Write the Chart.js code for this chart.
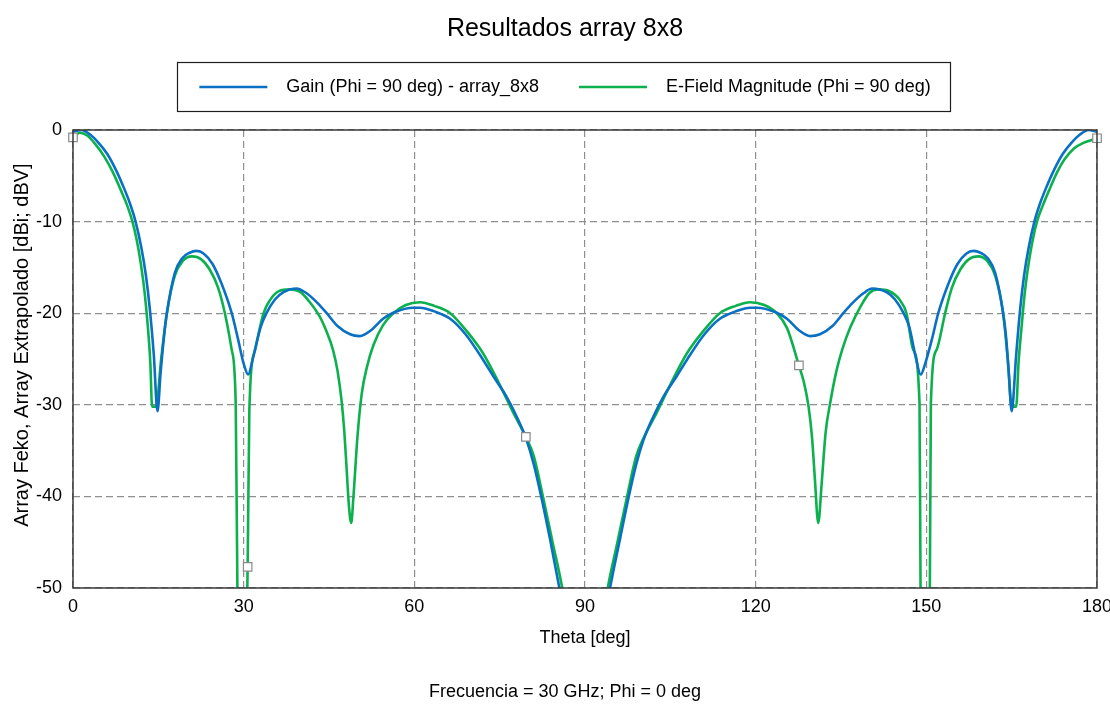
<!DOCTYPE html>
<html>
<head>
<meta charset="utf-8">
<title>Resultados array 8x8</title>
<script src="https://cdn.jsdelivr.net/npm/chart.js@4.4.1/dist/chart.umd.min.js"></script>
<style>
  html, body { margin: 0; padding: 0; background: #fff; }
  #wrap { width: 1110px; height: 704px; }
</style>
</head>
<body>
<div id="wrap"><canvas id="myChart" width="1110" height="704"></canvas></div>
<script>
// Gain cut (Phi = 90 deg) of the 8x8 array, theta in degrees, values in dBi
const thetaGain = [
  0, 1.5, 3, 4.5, 6, 7.5, 9, 10, 11, 12,
  12.8, 13.5, 14.2, 14.85, 15.4, 16, 16.5, 17.9, 19.2, 20.5,
  21.7, 23, 24.5, 26, 27.9, 29, 30, 30.8, 31.6, 33,
  34, 35.5, 37, 39.3, 41, 43, 44.6, 46.5, 48.7, 50.4,
  52.5, 54.5, 56.5, 59.8, 61, 63.5, 66.3, 69, 72.1, 74,
  76.2, 78, 79.7, 81, 82.3, 83.8, 85.5, 87.5, 90,
  92.5, 94.4, 96.2, 97.7, 99, 100.3, 102, 103.8, 106, 107.9,
  111, 113.7, 116.5, 119, 120.2, 123.5, 125.5, 127.5, 129.6, 131.3,
  133.5, 135.4, 137, 139, 140.5, 143, 144.5, 146, 147, 148.2,
  149, 149.8, 151, 152.1, 154, 155.5, 157, 158.3, 159.5, 160.8,
  162.1, 163.5, 164, 164.5, 165, 165.8, 166.5, 167.2, 168, 169,
  170, 171, 172.5, 174, 175.5, 177, 178.5, 180
];
const gainDb = [
  -0.2, 0, -0.5, -1.4, -2.6, -4.3, -6.4, -8, -10, -12.8,
  -15.8, -19.5, -24.5, -30.7, -26.5, -22.5, -20, -15.6, -14, -13.4,
  -13.2, -13.5, -14.6, -16.6, -20, -22.8, -25.5, -26.7, -25, -21.5,
  -20, -18.5, -17.7, -17.3, -17.8, -18.9, -20, -21.4, -22.3, -22.5,
  -21.8, -20.6, -19.9, -19.4, -19.4, -19.8, -20.6, -22.3, -25.1, -27,
  -29.1, -31.3, -33.8, -36.5, -40, -44.5, -50, -57, -65,
  -57, -50, -44.5, -40, -36.5, -33.8, -31.3, -29.1, -27, -25.1,
  -22.3, -20.6, -19.8, -19.4, -19.4, -19.9, -20.6, -21.8, -22.5, -22.3,
  -21.4, -20, -18.9, -17.8, -17.3, -17.7, -18.5, -20, -21.5, -25,
  -26.7, -25.5, -22.8, -20, -16.6, -14.6, -13.5, -13.2, -13.4, -14,
  -15.6, -20, -22.5, -26.5, -30.7, -24.5, -19.5, -15.8, -12.8, -10,
  -8, -6.4, -4.3, -2.6, -1.4, -0.5, 0, -0.2
];

// E-field magnitude cut (Phi = 90 deg), values in dBV
const thetaField = [
  0, 1.2, 2.5, 4, 5.5, 7, 8.5, 9.5, 10.4, 11.2,
  11.9, 12.6, 13.2, 13.6, 13.9, 14.6, 15.5, 16.5, 17.9, 19.3,
  20.9, 22.5, 24, 25.5, 26.7, 27.9, 28.6, 28.9, 29.9, 30.7,
  31, 32, 33.5, 34.6, 36.2, 38.1, 40, 41.5, 43.4, 44.5,
  45.7, 46.5, 47.2, 47.7, 48.1, 48.5, 48.9, 49.3, 50, 50.75,
  51.7, 52.8, 54.5, 56.3, 58.5, 61, 63.5, 66.3, 69, 72.1,
  75, 77.5, 79.6, 81, 82.6, 84.3, 86, 88, 90,
  92, 94, 95.7, 97.4, 99, 100.4, 102.5, 105, 107.9, 111,
  113.7, 116.5, 119, 121.5, 123.7, 125.5, 127.6, 128.5, 129.3, 129.9,
  130.4, 131, 131.6, 132.3, 133.1, 134.2, 135.2, 136.6, 138.5, 140,
  141.5, 143.5, 145.4, 146.5, 147.7, 148.8, 149, 149.8, 150.6, 150.8,
  151.8, 153.3, 154.5, 156, 157.5, 159.1, 160.7, 162.1, 163.5, 164.3,
  165, 165.8, 166.2, 166.7, 167.3, 168, 168.7, 169.5, 170.5, 171.5,
  173, 174.3, 176, 177.6, 180
];
const fieldDb = [
  -0.8, -0.3, -0.6, -1.6, -2.9, -4.6, -6.7, -8.2, -9.9, -12,
  -14.5, -17.8, -21.8, -25.5, -30.2, -30.2, -25, -20, -15.9, -14.3,
  -13.8, -14.1, -15.2, -17.2, -20, -24, -29.8, -50, -68, -47.7,
  -30.5, -24, -20, -18.6, -17.6, -17.4, -17.7, -18.7, -20.4, -21.9,
  -24, -26.3, -29.5, -33, -37, -41, -42.9, -40, -33.5, -28.8,
  -25.8, -23.5, -21.3, -20, -19.1, -18.8, -19.2, -20, -21.8, -24.4,
  -27.8, -31, -33.5, -35.6, -40, -45, -50, -58, -65,
  -58, -50, -45, -40, -35.6, -33.5, -31, -27.8, -24.4, -21.8,
  -20, -19.2, -18.8, -19.1, -20, -21.6, -25.7, -27.6, -30.2, -33.5,
  -38, -42.9, -38.6, -33, -29.8, -26.3, -24, -21.6, -19.2, -17.8,
  -17.4, -17.6, -18.6, -20, -24, -29.8, -52, -68, -52, -29.8,
  -24, -20, -17.2, -15.2, -14.1, -13.8, -14.3, -15.9, -20, -25,
  -30.2, -30.2, -25.5, -21.8, -17.8, -14.5, -12, -9.9, -8.2, -6.7,
  -4.6, -3.2, -2, -1.4, -0.9
];

// sample markers sitting on the E-field curve
const markerTheta = [0, 30.7, 79.6, 127.6, 180];

const xTicks = [0, 30, 60, 90, 120, 150, 180];
const yTicks = [-50, -40, -30, -20, -10, 0];

const seriesNames = ['Gain (Phi = 90 deg) - array_8x8', 'E-Field Magnitude (Phi = 90 deg)'];

function toPoints(xs, ys) {
    return xs.map((x, i) => ({ x: x, y: ys[i] }));
}

const markerPoints = markerTheta.map(t => ({ x: t, y: fieldDb[thetaField.indexOf(t)] }));

// extra room under the legend, plot frame and a box round the legend
const framePlugin = {
    id: 'frames',
    beforeInit(chart) {
        const fit = chart.legend.fit;
        chart.legend.fit = function () {
            fit.call(this);
            this.height += 24;
        };
    },
    afterDraw(chart) {
        const { ctx, chartArea: a, legend } = chart;
        ctx.save();
        ctx.strokeStyle = '#3a3a3a';
        ctx.lineWidth = 1.5;
        ctx.strokeRect(a.left, a.top, a.right - a.left, a.bottom - a.top);

        const hb = legend.legendHitBoxes[0];
        const cy = Math.round(hb.top + hb.height / 2);
        const left = Math.round(hb.left - 22);
        ctx.strokeStyle = '#1e1e1e';
        ctx.lineWidth = 1.2;
        ctx.strokeRect(left + 0.5, cy - 25 + 0.5, 773, 49);
        ctx.restore();
    }
};

Chart.defaults.font.family = "'Liberation Sans', Arial, sans-serif";
Chart.defaults.font.size = 18;
Chart.defaults.color = '#000';

const gridStyle = {
    color: '#8f8f8f',
    lineWidth: 1.2,
    drawTicks: false
};

const chartData = {
    datasets: [{
        label: seriesNames[0],
        data: toPoints(thetaGain, gainDb),
        borderColor: '#0a70c4',
        backgroundColor: '#0a70c4',
        borderWidth: 2.6,
        pointRadius: 0,
        cubicInterpolationMode: 'monotone'
    }, {
        label: seriesNames[1],
        data: toPoints(thetaField, fieldDb),
        borderColor: '#0cb14e',
        backgroundColor: '#0cb14e',
        borderWidth: 2.6,
        pointRadius: 0,
        cubicInterpolationMode: 'monotone'
    }, {
        // drawn last so the squares sit on top of both curves
        data: markerPoints,
        order: -1,
        showLine: false,
        pointStyle: 'rect',
        pointRadius: 6,
        pointBackgroundColor: '#ffffff',
        pointBorderColor: '#8a8a8a',
        pointBorderWidth: 1.2,
        clip: false
    }]
};

const chartOptions = {
    responsive: false,
    animation: false,
    devicePixelRatio: 1,
    layout: { padding: { left: 33, right: 13, top: 0, bottom: 0 } },
    scales: {
        x: {
            type: 'linear',
            min: 0,
            max: 180,
            afterBuildTicks: scale => { scale.ticks = xTicks.map(v => ({ value: v })); },
            afterFit: scale => {
                scale.height = 93.4;
                scale.paddingLeft = 0;
                scale.paddingRight = 0;
            },
            ticks: { padding: 8, font: { size: 18 } },
            grid: gridStyle,
            border: { display: false, dash: [7, 4] },
            title: {
                display: true,
                text: 'Theta [deg]',
                font: { size: 18 },
                padding: { top: 0, bottom: 32.6 }
            }
        },
        y: {
            type: 'linear',
            min: -50,
            max: 0,
            afterBuildTicks: scale => { scale.ticks = yTicks.map(v => ({ value: v })); },
            afterFit: scale => { scale.width = 40; },
            ticks: { padding: 11, font: { size: 18 } },
            grid: gridStyle,
            border: { display: false, dash: [7, 4] },
            title: {
                display: true,
                text: '     Array Feko, Array Extrapolado [dBi; dBV]',
                font: { size: 20 },
                padding: { top: -23, bottom: 0 }
            }
        }
    },
    plugins: {
        title: {
            display: true,
            text: 'Resultados array 8x8',
            font: { size: 25, weight: 'normal' },
            padding: { top: 14, bottom: -6 }
        },
        subtitle: {
            display: true,
            position: 'bottom',
            text: 'Frecuencia = 30 GHz; Phi = 0 deg',
            font: { size: 18 },
            padding: { top: 0, bottom: 1 }
        },
        legend: {
            position: 'top',
            labels: {
                usePointStyle: true,
                pointStyle: 'line',
                pointStyleWidth: 68,
                padding: 40,
                font: { size: 18 },
                sort: (a, b) => a.datasetIndex - b.datasetIndex,
                generateLabels: chart => Chart.defaults.plugins.legend.labels.generateLabels(chart)
                    .filter(item => item.datasetIndex < 2)
                    .map(item => Object.assign(item, { text: '  ' + item.text }))
            }
        },
        tooltip: { enabled: false }
    }
};

window.onload = function () {
    const ctx = document.getElementById('myChart').getContext('2d');
    new Chart(ctx, {
        type: 'line',
        data: chartData,
        options: chartOptions,
        plugins: [framePlugin]
    });
};
</script>
</body>
</html>
